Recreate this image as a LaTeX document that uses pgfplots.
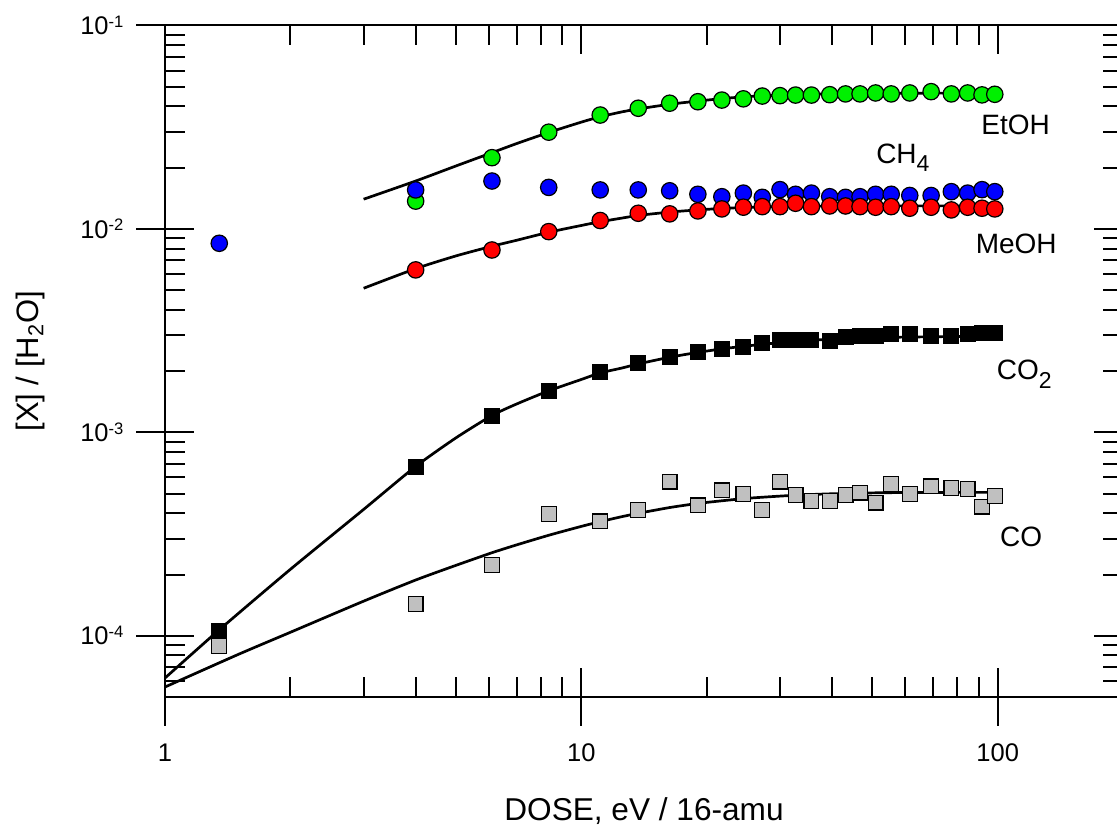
\documentclass[border=0pt]{standalone}
\usepackage{pgfplots}
\pgfplotsset{compat=1.18}
\usepackage{fontspec}
\setmainfont{Liberation Sans}

\definecolor{etohgreen}{RGB}{0,240,0}
\definecolor{chblue}{RGB}{0,0,255}
\definecolor{meohred}{RGB}{255,0,0}
\definecolor{cogray}{RGB}{192,192,192}

% superscript exponent for the y tick labels, subscript for the curve labels
\newcommand{\expo}[1]{\raisebox{3.6pt}{\fontsize{8.3}{9}\selectfont #1}}
\newcommand{\sub}[1]{\raisebox{-0.3em}{\fontsize{11.5}{12}\selectfont #1}}

\pgfplotsset{
  dot/.style={only marks, mark=*, mark size=4.1pt,
    mark options={draw=black, line width=0.6pt, fill=#1}},
  sq/.style={only marks, mark=square*, mark size=3.7pt,
    mark options={draw=black, line width=0.6pt, fill=#1}},
  fit/.style={black, line width=1.35pt, smooth, tension=0.4, mark=none},
}

\begin{document}
\begin{tikzpicture}
\useasboundingbox (-82.5pt,-64pt) rectangle (476pt,348.5pt);

\begin{axis}[
  at={(0,0)}, anchor=south west,
  scale only axis, width=479pt, height=335.75pt,
  xmode=log, ymode=log,
  xmin=1, xmax=200, ymin=5e-5, ymax=0.1,
  xtick={1,10,100},
  ytick={1e-4,1e-3,1e-2,1e-1},
  axis line style={line width=1pt, black},
  tick style={line width=1pt, black},
  tick align=inside,
  major tick length=14.5pt, minor tick length=10pt,
  minor xtick={2,3,4,5,6,7,8,9,20,30,40,50,60,70,80,90},
  minor ytick={6e-5,7e-5,8e-5,9e-5,
    2e-4,3e-4,4e-4,5e-4,6e-4,7e-4,8e-4,9e-4,
    2e-3,3e-3,4e-3,5e-3,6e-3,7e-3,8e-3,9e-3,
    2e-2,3e-2,4e-2,5e-2,6e-2,7e-2,8e-2,9e-2},
  xticklabels={1,10,100},
  yticklabels={10\expo{-4},10\expo{-3},10\expo{-2},10\expo{-1}},
  tick label style={font=\fontsize{12.75}{15}\selectfont},
  xticklabel style={yshift=-19.75pt},
  yticklabel style={xshift=-17.25pt},
  xlabel={DOSE, eV / 16-amu},
  ylabel={[X] / [H\textsubscript{2}O]},
  every axis x label/.style={at={(axis description cs:0.5,-0.1835)}, anchor=base,
    font=\fontsize{15.8}{18}\selectfont},
  every axis y label/.style={at={(axis description cs:-0.1409,0.5)}, anchor=center, rotate=90,
    font=\fontsize{15.5}{18}\selectfont},
]

% EtOH
\addplot[dot=etohgreen] coordinates {
 (4.0,0.0137) (6.1,0.0224) (8.35,0.0299) (11.1,0.0363) (13.7,0.0392)
 (16.3,0.0415) (19.05,0.0422) (21.75,0.0430) (24.5,0.0436) (27.2,0.0450)
 (30.0,0.0452) (32.7,0.0455) (35.7,0.0455) (39.5,0.0457) (43.1,0.0461)
 (46.7,0.0461) (50.9,0.0466) (55.5,0.0461) (61.5,0.0466) (69.2,0.0473)
 (77.4,0.0461) (84.7,0.0466) (91.7,0.0456) (98.4,0.0459)
};
% CH4
\addplot[dot=chblue] coordinates {
 (1.35,0.0085) (4.0,0.01555) (6.1,0.0172) (8.35,0.0160) (11.1,0.01555)
 (13.7,0.01555) (16.3,0.0154) (19.05,0.0148) (21.75,0.0144) (24.5,0.0150)
 (27.2,0.0143) (30.0,0.0156) (32.7,0.0148) (35.7,0.0150) (39.5,0.0144)
 (43.1,0.0143) (46.7,0.0144) (50.9,0.0148) (55.5,0.0148) (61.5,0.0146)
 (69.2,0.0146) (77.4,0.01525) (84.7,0.0150) (91.7,0.0156) (98.4,0.01525)
};
% MeOH
\addplot[dot=meohred] coordinates {
 (4.0,0.00629) (6.1,0.00788) (8.35,0.0097) (11.1,0.0110) (13.7,0.01194)
 (16.3,0.01186) (19.05,0.01226) (21.75,0.01254) (24.5,0.01279) (27.2,0.01287)
 (30.0,0.01287) (32.7,0.01337) (35.7,0.01287) (39.5,0.01297) (43.1,0.01297)
 (46.7,0.01287) (50.9,0.01278) (55.5,0.01287) (61.5,0.01264) (69.2,0.01278)
 (77.4,0.0124) (84.7,0.01278) (91.7,0.01264) (98.4,0.01254)
};
% CO
\addplot[sq=cogray] coordinates {
 (1.35,8.93e-5) (4.0,1.43e-4) (6.1,2.23e-4) (8.35,3.98e-4) (11.1,3.65e-4)
 (13.7,4.16e-4) (16.3,5.73e-4) (19.05,4.37e-4) (21.75,5.18e-4) (24.5,4.99e-4)
 (27.2,4.16e-4) (30.0,5.73e-4) (32.7,4.93e-4) (35.7,4.61e-4) (39.5,4.61e-4)
 (43.1,4.93e-4) (46.7,5.06e-4) (50.9,4.52e-4) (55.5,5.58e-4) (61.5,4.98e-4)
 (69.2,5.42e-4) (77.4,5.34e-4) (84.7,5.28e-4) (91.7,4.32e-4) (98.4,4.85e-4)
};
% CO2
\addplot[sq=black] coordinates {
 (1.35,1.06e-4) (4.0,6.79e-4) (6.1,1.21e-3) (8.35,1.60e-3) (11.1,1.97e-3)
 (13.7,2.19e-3) (16.3,2.34e-3) (19.05,2.49e-3) (21.75,2.56e-3) (24.5,2.64e-3)
 (27.2,2.76e-3) (30.0,2.83e-3) (32.7,2.84e-3) (35.7,2.83e-3) (39.5,2.80e-3)
 (43.1,2.94e-3) (46.7,2.96e-3) (50.9,2.98e-3) (55.5,3.05e-3) (61.5,3.06e-3)
 (69.2,2.96e-3) (77.4,2.96e-3) (84.7,3.06e-3) (91.7,3.08e-3) (98.4,3.08e-3)
};

% fitted curves
\addplot[fit] coordinates {
 (3,0.0140) (4,0.0172) (5,0.0204) (6.1,0.0237) (7,0.0263) (8.35,0.0298)
 (10,0.0335) (11.1,0.0356) (12.5,0.0376) (13.7,0.0389) (16.3,0.0410)
 (19,0.0425) (22,0.0438) (25,0.0447) (30,0.0455) (35,0.0459) (40,0.0462)
 (50,0.0464) (70,0.0465) (100,0.0465)
};
\addplot[fit] coordinates {
 (3,0.00511) (4,0.00638) (5,0.00737) (6.1,0.00822) (7,0.00880) (8.35,0.00963)
 (10,0.01040) (11.1,0.01085) (12.5,0.01130) (13.7,0.01165) (16.3,0.01210)
 (19,0.01240) (22,0.01262) (25,0.01276) (30,0.01288) (40,0.01296)
 (50,0.01298) (70,0.01298) (100,0.01298)
};
\addplot[fit] coordinates {
 (1,6.2e-5) (1.35,1.07e-4) (2,2.12e-4) (3,4.18e-4) (4,6.8e-4) (5,9.4e-4)
 (6.1,1.21e-3) (7,1.38e-3) (8.35,1.60e-3) (10,1.82e-3) (11.1,1.96e-3)
 (12.5,2.07e-3) (13.7,2.17e-3) (16.3,2.34e-3) (19,2.47e-3) (22,2.58e-3)
 (25,2.66e-3) (30,2.76e-3) (35,2.83e-3) (40,2.87e-3) (50,2.92e-3)
 (60,2.94e-3) (80,2.96e-3) (100,2.97e-3)
};
\addplot[fit] coordinates {
 (1,5.6e-5) (1.5,8.1e-5) (2,1.04e-4) (3,1.48e-4) (4,1.88e-4) (5,2.22e-4)
 (6.1,2.56e-4) (7,2.80e-4) (8.35,3.12e-4) (10,3.45e-4) (11.1,3.64e-4)
 (12.5,3.85e-4) (13.7,4.00e-4) (16.3,4.27e-4) (19,4.47e-4) (22,4.62e-4)
 (25,4.74e-4) (30,4.86e-4) (35,4.94e-4) (40,4.99e-4) (50,5.04e-4)
 (60,5.06e-4) (80,5.07e-4) (100,5.07e-4)
};

% curve names
\node[anchor=base, inner sep=0pt, font=\fontsize{14}{16}\selectfont] at (axis cs:110.4,0.02897) {EtOH};
\node[anchor=base, inner sep=0pt, font=\fontsize{14}{16}\selectfont] at (axis cs:59.2,0.02104) {CH\sub{4}};
\node[anchor=base, inner sep=0pt, font=\fontsize{14}{16}\selectfont] at (axis cs:110.8,0.007536) {MeOH};
\node[anchor=base, inner sep=0pt, font=\fontsize{14}{16}\selectfont] at (axis cs:115.8,1.811e-3) {CO\sub{2}};
\node[anchor=base, inner sep=0pt, font=\fontsize{14}{16}\selectfont] at (axis cs:113.9,2.738e-4) {CO};
\end{axis}

% outer halves of the major ticks on the bottom and left axes
\begin{axis}[
  at={(0,0)}, anchor=south west,
  scale only axis, width=479pt, height=335.75pt,
  xmode=log, ymode=log,
  xmin=1, xmax=200, ymin=5e-5, ymax=0.1,
  xtick={1,10,100},
  ytick={1e-4,1e-3,1e-2,1e-1},
  axis line style={line width=1pt, black},
  tick style={line width=1pt, black},
  axis x line*=bottom, axis y line*=left,
  tick align=outside,
  major tick length=14.5pt, minor tick length=0pt,
  minor xtick={}, minor ytick={},
  minor tick style={draw=none},
  xticklabels={}, yticklabels={},
]
\addplot[draw=none, mark=none, forget plot] coordinates {(2,1e-3) (20,1e-2)};
\end{axis}
\end{tikzpicture}
\end{document}
